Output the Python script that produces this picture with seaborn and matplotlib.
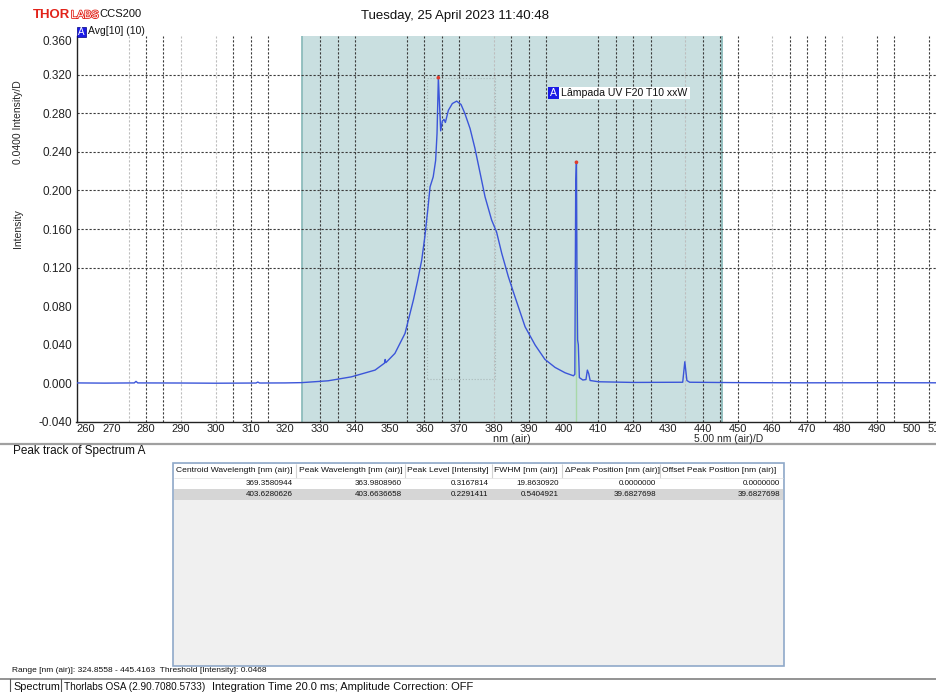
import seaborn as sns
import matplotlib.pyplot as plt
import matplotlib.patheffects as pe
from matplotlib.patches import Rectangle
from matplotlib.lines import Line2D

W, H = 937, 692

# SPECTRUM (nm air, intensity)
wavelength = [260.0, 268.0, 276.6, 277.1, 277.6, 290.0, 300.0, 311.6, 312.1, 312.6,
              320.0, 324.7, 332.3, 339.0, 345.8, 348.5, 348.7, 348.9, 351.5, 354.4,
              356.8, 358.0, 359.2, 360.1, 361.0, 361.6, 362.5, 363.2, 363.6, 363.98,
              364.65, 365.13, 365.6, 366.0, 366.86, 368.0, 369.25, 370.5, 371.6, 373.1,
              374.5, 376.0, 377.4, 379.3, 380.7, 382.2, 384.1, 386.0, 388.9, 391.8,
              394.6, 397.5, 400.4, 402.8, 403.2, 403.45, 403.66, 403.8, 404.0, 404.2,
              404.5, 405.5, 406.4, 406.8, 407.2, 407.6, 410.0, 420.0, 434.2, 434.8,
              435.4, 436.2, 450.0, 470.0, 490.0, 510.0]
intensity = [0.0005, 0.0003, 0.0005, 0.0021, 0.0005, 0.0004, 0.0002, 0.0004, 0.0014, 0.0004,
             0.0005, 0.0008, 0.0027, 0.0068, 0.0138, 0.0210, 0.0248, 0.0215, 0.0311, 0.0518,
             0.0863, 0.1060, 0.1278, 0.1520, 0.1820, 0.2037, 0.2140, 0.2310, 0.2590, 0.3168,
             0.2617, 0.2718, 0.2735, 0.2704, 0.2830, 0.2900, 0.2925, 0.2890, 0.2797, 0.2640,
             0.2435, 0.2176, 0.1933, 0.1692, 0.1570, 0.1347, 0.1105, 0.0897, 0.0587, 0.0397,
             0.0249, 0.0166, 0.0110, 0.0079, 0.0095, 0.2050, 0.2291, 0.1200, 0.0450, 0.0400,
             0.0060, 0.0035, 0.0040, 0.0138, 0.0100, 0.0030, 0.0017, 0.0010, 0.0012, 0.0224,
             0.0030, 0.0012, 0.0008, 0.0006, 0.0007, 0.0006]

# PEAK TRACK TABLE
table_headers = ["Centroid Wavelength [nm (air)]", "Peak Wavelength [nm (air)]",
                 "Peak Level [Intensity]", "FWHM [nm (air)]",
                 "\u0394Peak Position [nm (air)]", "Offset Peak Position [nm (air)]"]
centroid_wl = [369.3580944, 403.6280626]
peak_wl = [363.9808960, 403.6636658]
peak_level = [0.3167814, 0.2291411]
fwhm = [19.8630920, 0.5404921]
delta_peak = [0.0, 39.6827698]
offset_peak = [0.0, 39.6827698]

range_lo, range_hi = 324.8558, 445.4163
threshold = 0.0468
fwhm_box_x = [360.6, 380.4]
fwhm_box_y = [0.0045, 0.3160]

x_ticks = list(range(260, 511, 10))
y_ticks = [-0.04, 0.0, 0.04, 0.08, 0.12, 0.16, 0.20, 0.24, 0.28, 0.32, 0.36]
grid_dark = [280, 285, 305, 310, 315, 330, 335, 340, 355, 360, 365, 370, 385, 390, 395,
             410, 415, 420, 425, 440, 445, 450, 465, 470, 475, 490, 495, 505]
grid_light = [275, 290, 300, 380, 435, 460, 480]
grid_y = [0.12, 0.16, 0.20, 0.24, 0.28, 0.32]


def fx(px):
    return px / W


def fy(py):
    return 1 - py / H


sns.set_theme(style="white")
plt.rcParams['font.family'] = ['Liberation Sans', 'DejaVu Sans']
BLUE_TAG = '#1a1ae6'
INK = '#111111'

fig = plt.figure(figsize=(W / 100, H / 100), dpi=100)
fig.patch.set_facecolor('white')

# MAIN SPECTRUM AXES (RUNS OFF THE RIGHT EDGE LIKE THE SCREENSHOT)
ax = fig.add_axes([fx(76.5), fy(422), 870 / W, 386 / H])
ax.set_facecolor('white')
ax.set_xlim(260, 510)
ax.set_ylim(-0.04, 0.36)

ax.axvspan(range_lo, range_hi, color='#c9dfe0', lw=0, zorder=0)
for v in (range_lo, range_hi):
    ax.axvline(v, color='#8dbcbc', lw=1.3, zorder=0.5)

for v in grid_dark:
    ax.axvline(v, color='#3a3a3a', lw=0.8, ls=(0, (2, 1.6)), zorder=1)
for v in grid_light:
    ax.axvline(v, color='#bdbdbd', lw=0.8, ls=(0, (2, 1.6)), zorder=1)
for v in grid_y:
    ax.axhline(v, color='#3a3a3a', lw=0.8, ls=(0, (2, 1.6)), zorder=1)

ax.add_patch(Rectangle((fwhm_box_x[0], fwhm_box_y[0]), fwhm_box_x[1] - fwhm_box_x[0],
                       fwhm_box_y[1] - fwhm_box_y[0], fill=False, ec='#a9b9b9',
                       lw=0.8, ls=':', zorder=1.5))
ax.vlines(peak_wl[1], -0.04, peak_level[1], color='#a8d8a8', lw=1.0, zorder=2)

sns.lineplot(x=wavelength, y=intensity, ax=ax, color='#3b55d9', lw=1.0,
             estimator=None, zorder=3)
sns.scatterplot(x=peak_wl, y=peak_level, ax=ax, color='#e03a2a', s=7,
                edgecolor='none', zorder=4)

ax.set_xlabel('')
ax.set_ylabel('')
for side in ('top', 'right'):
    ax.spines[side].set_visible(False)
for side in ('left', 'bottom'):
    ax.spines[side].set_color('#222222')
    ax.spines[side].set_linewidth(1.0)
ax.tick_params(axis='y', length=0, pad=3, colors='#222222')
ax.tick_params(axis='x', length=0, pad=1.5, colors='#222222')

ax.set_xticks(x_ticks)
ax.set_xticklabels([str(t) for t in x_ticks], fontsize=8)
xl = ax.get_xticklabels()
xl[0].set_ha('left')
xl[-1].set_ha('right')
ax.set_yticks(y_ticks)
ax.set_yticklabels([f"{v:.3f}" for v in y_ticks], fontsize=8.5)
ax.get_yticklabels()[-1].set_va('top')

# AXIS TEXTS
fig.text(fx(512), fy(439.5), "nm (air)", ha='center', va='center', fontsize=7.8)
fig.text(fx(729), fy(439.5), "5.00 nm (air)/D", ha='center', va='center', fontsize=7.5)
fig.text(fx(18), fy(229), "Intensity", rotation=90, ha='center', va='center', fontsize=7.5)
fig.text(fx(18), fy(122), "0.0400 Intensity/D", rotation=90, ha='center', va='center',
         fontsize=7.5)

# HEADER
fig.text(fx(33), fy(15), "THOR", color='#e2231a', fontweight='bold', fontsize=9.5,
         va='center', ha='left')
fig.text(fx(71), fy(15), "LABS", color='white', fontsize=7.8,
         va='center', ha='left',
         path_effects=[pe.withStroke(linewidth=1.2, foreground='#e2231a')])
fig.text(fx(99), fy(14), "CCS200", fontsize=8, va='center', ha='left', color=INK)
fig.text(fx(455), fy(16), "Tuesday, 25 April 2023 11:40:48", fontsize=9.5,
         ha='center', va='center', color=INK)

# SPECTRUM TAGS
fig.add_artist(Rectangle((fx(76.7), fy(36.7)), 9.5 / W, 10 / H, transform=fig.transFigure,
                         fc=BLUE_TAG, ec='#000080', lw=0.5))
fig.text(fx(81.5), fy(31.7), "A", color='white', fontsize=7, ha='center', va='center')
fig.text(fx(88), fy(31.5), "Avg[10] (10)", fontsize=7.5, ha='left', va='center', color=INK)
fig.add_artist(Rectangle((fx(559), fy(99)), 131 / W, 12.3 / H, transform=fig.transFigure,
                         fc='white', ec='none'))
fig.add_artist(Rectangle((fx(548), fy(99)), 11 / W, 12.3 / H, transform=fig.transFigure,
                         fc=BLUE_TAG, ec='none'))
fig.text(fx(553.5), fy(92.8), "A", color='white', fontsize=7.5, ha='center', va='center')
fig.text(fx(561), fy(92.8), "L\u00e2mpada UV F20 T10 xxW", fontsize=7.6, ha='left',
         va='center', color=INK)

# SEPARATOR AND PEAK TRACK TITLE
fig.add_artist(Line2D([0, 1], [fy(444), fy(444)], transform=fig.transFigure,
                      color='#a0a0a0', lw=1.6))
fig.text(fx(13), fy(451), "Peak track of Spectrum A", fontsize=8.5, ha='left', va='center',
         color=INK)

# PEAK TABLE IN PIXEL COORDS
col_edges = [173, 296.5, 405, 492, 562.5, 660, 784]
tab = fig.add_axes([fx(173), fy(666), (784 - 173) / W, (666 - 463) / H])
tab.set_xlim(173, 784)
tab.set_ylim(666, 463)
tab.axis('off')
tab.add_patch(Rectangle((173, 463), 611, 203, fc='#f0f0f0', ec='#8fa9c9', lw=1.2,
                        clip_on=False))
tab.add_patch(Rectangle((173.6, 463.6), 609.8, 14.4, fc='white', ec='none'))
tab.add_patch(Rectangle((173.6, 478), 609.8, 11, fc='white', ec='none'))
tab.add_patch(Rectangle((173.6, 489), 609.8, 10.5, fc='#d6d6d6', ec='none'))
tab.vlines(col_edges[1:-1], 463.6, 478, color='#d2d2d2', lw=0.8)
tab.hlines(478, 173.6, 783.4, color='#e4e4e4', lw=0.6)
for i, head in enumerate(table_headers):
    tab.text(col_edges[i] + 2.5, 470.8, head, fontsize=6.1, ha='left', va='center', color=INK)
rows = list(zip(centroid_wl, peak_wl, peak_level, fwhm, delta_peak, offset_peak))
for row, yc in zip(rows, [483.8, 494.3]):
    for i, val in enumerate(row):
        tab.text(col_edges[i + 1] - 3.5, yc, f"{val:.7f}", fontsize=5.8, ha='right',
                 va='center', color=INK)

# STATUS LINES
fig.text(fx(12), fy(671), f"Range [nm (air)]: {range_lo:.4f} - {range_hi:.4f}  "
         f"Threshold [Intensity]: {threshold:.4f}", fontsize=6.0, ha='left', va='center',
         color=INK)
fig.add_artist(Line2D([0, 1], [fy(678.5), fy(678.5)], transform=fig.transFigure,
                      color='#8a8a8a', lw=1.3))
for xv in (10, 61):
    fig.add_artist(Line2D([fx(xv), fx(xv)], [fy(679), 0], transform=fig.transFigure,
                          color='#555555', lw=0.8))
fig.text(fx(13), fy(686.5), "Spectrum", fontsize=7.8, ha='left', va='center', color=INK)
fig.text(fx(64), fy(686.5), "Thorlabs OSA (2.90.7080.5733)", fontsize=7.2, ha='left',
         va='center', color=INK)
fig.text(fx(212), fy(686.5), "Integration Time 20.0 ms; Amplitude Correction: OFF",
         fontsize=8.0, ha='left', va='center', color=INK)

fig.savefig("out.png", dpi=100)
